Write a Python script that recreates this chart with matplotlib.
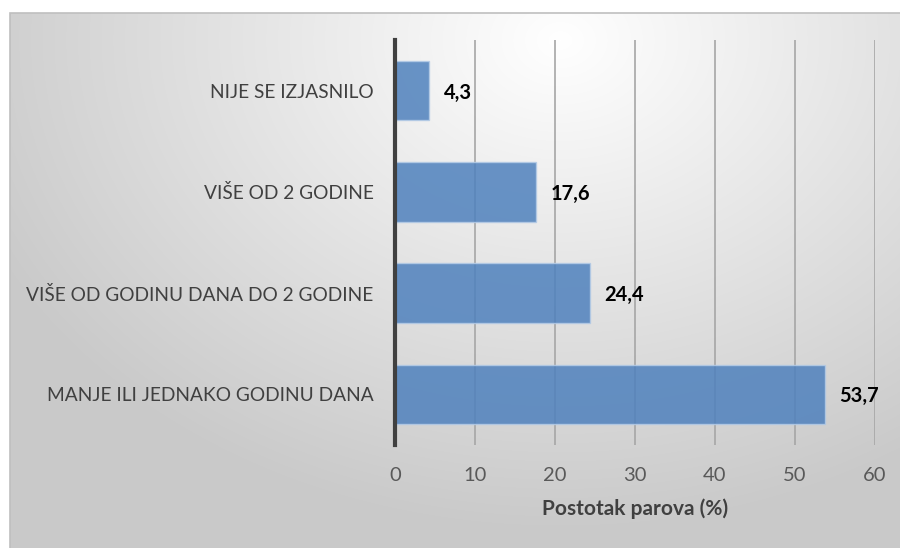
import numpy as np
import matplotlib
matplotlib.use('Agg')
import matplotlib.pyplot as plt
from matplotlib.patches import Rectangle

plt.rcParams['font.family'] = ['Lato', 'DejaVu Sans']

# data (bottom to top)
categories = ['MANJE ILI JEDNAKO GODINU DANA',
              'VIŠE OD GODINU DANA DO 2 GODINE',
              'VIŠE OD 2 GODINE',
              'NIJE SE IZJASNILO']
values = [53.7, 24.4, 17.6, 4.3]
value_labels = ['53,7', '24,4', '17,6', '4,3']
x_ticks = [0, 10, 20, 30, 40, 50, 60]

fig = plt.figure(figsize=(9, 5.48), dpi=100)

# radial gradient background for the chart box
bg = fig.add_axes([0, 0, 1, 1], zorder=-10)
bg.set_axis_off()
h, w = 548, 900
yy, xx = np.mgrid[0:h, 0:w]
cx, cy = 560, 40
d = np.sqrt(((xx - cx) / 900.0) ** 2 + ((yy - cy) / 700.0) ** 2)
shade = np.clip(1.0 - 0.3 * d, 0.79, 1.0)
img = np.dstack([shade, shade, shade])
img[:13, :, :] = 1.0
img[:, :10, :] = 1.0
bg.imshow(img, extent=[0, 1, 0, 1], aspect='auto', interpolation='bilinear')
bg.set_xlim(0, 1)
bg.set_ylim(0, 1)
bg.add_patch(Rectangle((10 / 900, -0.01), 1, 1 - 13 / 548 + 0.01,
                       fill=False, edgecolor='#bfbfbf', lw=1.2))

ax = fig.add_axes([395 / 900, 1 - 445 / 548, 480 / 900, 405 / 548])
ax.patch.set_alpha(0)

y = np.arange(len(categories))
ax.barh(y, values, height=0.59, color='#4f81bd', alpha=0.85,
        edgecolor='#b4cbe6', linewidth=1, zorder=3)

for yi, v, lab in zip(y, values, value_labels):
    ax.text(v + 1.8, yi - 0.02, lab, va='center', ha='left',
            fontsize=14.5, fontweight='bold', color='black', zorder=4)

ax.set_xlim(0, 60)
ax.set_ylim(-0.5, 3.5)
ax.set_xticks(x_ticks)
ax.set_xticklabels([str(t) for t in x_ticks])
ax.set_yticks(y)
ax.set_yticklabels(categories)
ax.tick_params(axis='y', length=0, pad=15.5, labelsize=13.8, labelcolor='#404040')
ax.tick_params(axis='x', length=0, pad=16, labelsize=14.5, labelcolor='#595959')

ax.grid(axis='x', color='#a6a6a6', linewidth=1.2, zorder=1)
ax.set_axisbelow(True)
for s in ['top', 'right', 'bottom']:
    ax.spines[s].set_visible(False)
ax.spines['left'].set_color('#404040')
ax.spines['left'].set_linewidth(3)
ax.spines['left'].set_zorder(5)

ax.set_xlabel('Postotak parova (%)', fontsize=15, fontweight='bold',
              color='#404040', labelpad=10)

fig.savefig('out.png', dpi=100)
